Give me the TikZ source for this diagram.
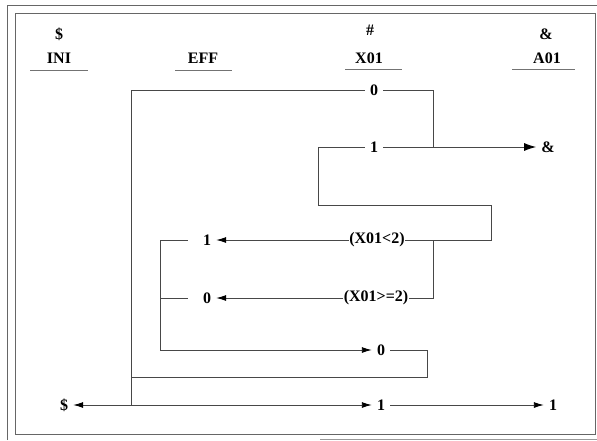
\documentclass[tikz,border=0pt]{standalone}
\usepackage{fontspec}
\setmainfont{Liberation Serif}
\usetikzlibrary{arrows.meta}
\begin{document}
\begin{tikzpicture}[x=1pt,y=-1pt,
  wire/.style={draw=black!72, line width=0.9pt},
  lbl/.style={font=\fontsize{16}{18}\selectfont\bfseries, inner sep=5pt, text=black},
  cond/.style={font=\fontsize{16}{18}\selectfont\bfseries, inner sep=0.5pt, text=black},
  arr/.style={wire,-{Latex[length=10pt,width=6pt,fill=black,color=black]}},
  bigarr/.style={wire,-{Latex[length=12pt,width=8pt,fill=black,color=black]}},
  uline/.style={draw=black!55, line width=1pt},
  frame/.style={draw=black!60, line width=0.9pt}]
\useasboundingbox (0,0) rectangle (597,440);
% frame
\draw[frame] (15,13) rectangle (595,434);
\draw[frame] (7,440) -- (7,5) -- (597,5);
\draw[frame, draw=black!40] (320,439) -- (597,439);
% header
\node[lbl] (sDollar) at (59,34) {\$};
\node[lbl] (nINI) at (59,58) {INI};
\node[lbl] (nEFF) at (203,58) {EFF};
\node[lbl] (sHash) at (370,30) {\#};
\node[lbl] (nX) at (369,58) {X01};
\node[lbl] (sAmp) at (546,34) {\&};
\node[lbl] (nA) at (547,58) {A01};
\draw[uline] (30,70) -- (88,70);
\draw[uline] (175,70) -- (232,70);
\draw[uline] (345,69) -- (402,69);
\draw[uline] (512,69) -- (575,69);
% diagram nodes
\node[lbl] (t0) at (374,90) {0};
\node[lbl] (t1) at (374,147) {1};
\node[lbl] (amp) at (548,147) {\&};
\node[cond] (c1) at (377,240) {(X01<2)};
\node[cond] (c2) at (376,298) {(X01>=2)};
\node[lbl] (e1) at (207,240) {1};
\node[lbl] (e0) at (207,298) {0};
\node[lbl] (b0) at (381,350) {0};
\node[lbl] (b1) at (381,405) {1};
\node[lbl] (d) at (64,405) {\$};
\node[lbl] (f1) at (553,405) {1};
% junctions
\coordinate (jA) at (131,405);
\coordinate (jM) at (131,377);
\coordinate (jR) at (433,147);
\coordinate (jC) at (433,240);
\coordinate (jL) at (160,298);
% wires
\draw[wire] (jA) |- (t0.west);
\draw[wire] (t0.east) -| (jR);
\draw[bigarr] (t1.east) -- (amp.west);
\draw[wire] (t1.west) -- (318,147) -- (318,205) -- (491,205) |- (c1.east);
\draw[wire] (jC) |- (c2.east);
\draw[arr] (c1.west) -- (e1.east);
\draw[arr] (c2.west) -- (e0.east);
\draw[arr, shorten <=10pt] (e1.west) -- (160,240) |- (b0.west);
\draw[wire, shorten <=10pt] (e0.west) -- (jL);
\draw[wire] (b0.east) -| (427,377) -- (jM);
\draw[arr] (jA) -- (d.east);
\draw[arr] (jA) -- (b1.west);
\draw[arr] (b1.east) -- (f1.west);
\end{tikzpicture}
\end{document}
